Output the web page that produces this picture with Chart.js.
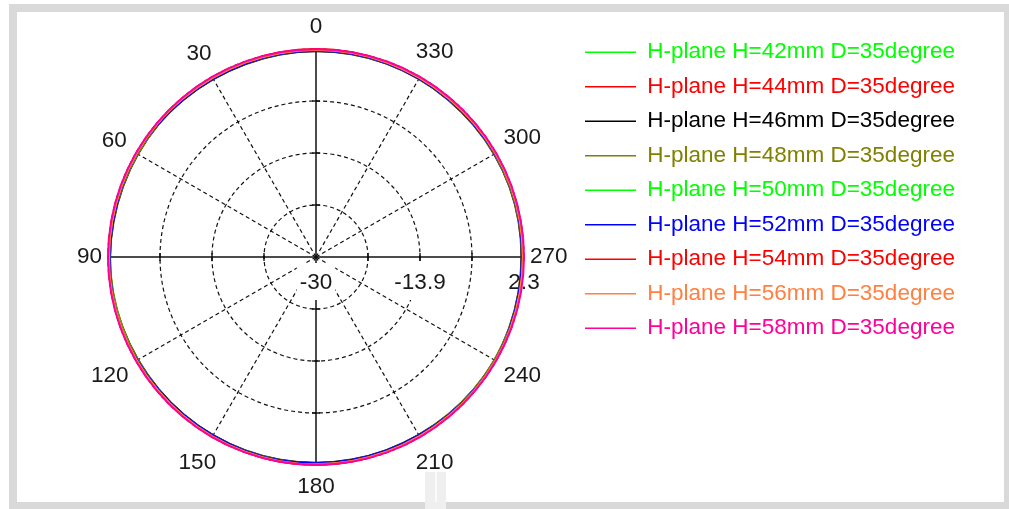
<!DOCTYPE html>
<html>
<head>
<meta charset="utf-8">
<title>H-plane pattern</title>
<script src="https://cdn.jsdelivr.net/npm/chart.js"></script>
<style>
  html, body { margin: 0; padding: 0; background: #fff; }
  #wrap { position: relative; width: 1009px; height: 509px; overflow: hidden; }
  #frame { position: absolute; left: 9px; top: 4px; width: 1000px; height: 505px; background: #d9d9d9; }
  #panel { position: absolute; left: 17px; top: 12px; width: 987px; height: 490px; background: #fff; }
  #smudge { position: absolute; left: 425px; top: 472px; width: 21px; height: 37px; background: #efefef; }
  #smudge i { position: absolute; left: 10px; top: 0; width: 2px; height: 30px; background: #fafafa; }
  #c { position: absolute; left: 0; top: 0; }
</style>
</head>
<body>
<div id="wrap">
  <div id="frame"></div>
  <div id="panel"></div>
  <div id="smudge"><i></i></div>
  <canvas id="c" width="1009" height="509"></canvas>
</div>
<script>
// angles of the measurement, degrees (counter-clockwise from top)
const angles = [0, 10, 20, 30, 40, 50, 60, 70, 80, 90, 100, 110, 120, 130, 140, 150, 160, 170,
                180, 190, 200, 210, 220, 230, 240, 250, 260, 270, 280, 290, 300, 310, 320, 330, 340, 350];
const angleLabels = [0, 30, 60, 90, 120, 150, 180, 210, 240, 270, 300, 330];

// radial axis (dB)
const ringValues = [-30, -21.925, -13.85, -5.775, 2.3];
const ringLabels = ['-30', '', '-13.9', '', '2.3'];

const seriesNames = [
  'H-plane H=42mm D=35degree', 'H-plane H=44mm D=35degree', 'H-plane H=46mm D=35degree',
  'H-plane H=48mm D=35degree', 'H-plane H=50mm D=35degree', 'H-plane H=52mm D=35degree',
  'H-plane H=54mm D=35degree', 'H-plane H=56mm D=35degree', 'H-plane H=58mm D=35degree'
];
const seriesColors = ['#00ff00', '#ff0000', '#000000', '#808000', '#00ff00', '#0000ff', '#ff0000', '#ff8040', '#ff0099'];

const h42 = [2.08,2.05,2.02,2.00,2.03,2.06,2.04,2.01,1.99,2.02,2.05,2.07,2.04,2.01,2.00,2.03,2.06,2.08,2.09,2.07,2.04,2.01,2.00,2.02,2.05,2.03,2.00,1.99,2.02,2.05,2.07,2.04,2.02,2.01,2.04,2.07];
const h44 = [2.30,2.27,2.20,2.14,2.16,2.19,2.15,2.13,2.16,2.20,2.17,2.14,2.12,2.15,2.18,2.16,2.22,2.27,2.30,2.26,2.20,2.15,2.13,2.16,2.19,2.15,2.13,2.17,2.20,2.16,2.14,2.15,2.18,2.16,2.21,2.27];
const h46 = [1.95,1.93,1.90,1.88,1.92,1.96,1.94,1.90,1.92,1.98,2.02,1.96,1.91,1.90,1.93,1.95,1.97,1.98,1.96,1.94,1.91,1.89,1.93,1.98,2.02,1.96,1.92,1.90,1.94,1.97,1.95,1.91,1.90,1.93,1.96,1.97];
const h48 = [2.01,1.98,1.96,1.94,1.97,1.99,1.96,1.94,1.96,1.99,1.98,1.95,1.94,1.96,1.98,2.00,2.01,2.02,2.01,1.99,1.97,1.94,1.95,1.98,1.99,1.97,1.94,1.95,1.98,2.00,1.98,1.95,1.94,1.96,1.98,2.00];
const h50 = [2.12,2.10,2.08,2.06,2.09,2.11,2.08,2.06,2.07,2.10,2.12,2.09,2.07,2.06,2.09,2.11,2.13,2.14,2.13,2.11,2.08,2.06,2.07,2.10,2.12,2.09,2.07,2.06,2.09,2.12,2.10,2.07,2.06,2.08,2.11,2.13];
const h52 = [2.02,2.00,1.97,1.95,1.98,2.04,2.10,2.03,1.97,2.05,2.12,2.14,2.04,1.98,1.97,2.00,2.03,2.05,2.03,2.01,1.98,1.96,2.01,2.08,2.13,2.05,1.98,1.97,2.04,2.11,2.06,1.99,1.96,1.98,2.01,2.03];
const h54 = [2.20,2.18,2.15,2.13,2.16,2.19,2.17,2.14,2.15,2.19,2.21,2.18,2.15,2.14,2.16,2.19,2.21,2.23,2.22,2.20,2.17,2.14,2.15,2.18,2.21,2.18,2.15,2.14,2.17,2.20,2.18,2.15,2.14,2.16,2.19,2.21];
const h56 = [2.16,2.14,2.12,2.10,2.12,2.15,2.13,2.11,2.12,2.15,2.17,2.14,2.12,2.11,2.13,2.16,2.18,2.19,2.18,2.16,2.13,2.11,2.12,2.15,2.17,2.14,2.12,2.11,2.13,2.16,2.15,2.12,2.10,2.12,2.15,2.17];
const h58 = [2.27,2.28,2.29,2.30,2.30,2.30,2.29,2.28,2.29,2.30,2.30,2.29,2.28,2.29,2.30,2.30,2.29,2.28,2.27,2.28,2.29,2.30,2.30,2.29,2.28,2.29,2.30,2.30,2.29,2.30,2.30,2.29,2.28,2.29,2.30,2.29];
const seriesValues = [h42, h44, h46, h48, h50, h52, h54, h56, h58];

const FONT = "'Liberation Sans', Arial, sans-serif";
Chart.defaults.font.family = FONT;

// radar goes clockwise, the plot goes counter-clockwise: slot i holds angle (360 - 10*i) % 360
const slotAngles = angles.map(a => (360 - a) % 360);
const angleIndex = {};
angles.forEach((a, i) => { angleIndex[a] = i; });
const slotOf = a => slotAngles.indexOf(a);

// legend geometry: line starts at x=585
const legendFont = { size: 22.5, family: FONT };
const legendPad = 12;
const lineLen = 51;
const legendLeft = 573;
const meas = document.createElement('canvas').getContext('2d');
meas.font = legendFont.size + 'px ' + FONT;
const textW = Math.max(...seriesNames.map(s => meas.measureText(s).width));
const legendW = legendPad + lineLen + legendFont.size / 2 + textW + 10;
const padRight = 1009 - legendLeft - legendW;

const polarDecor = {
  id: 'polarDecor',
  beforeDatasetsDraw(chart) {
    const r = chart.scales.r;
    const ctx = chart.ctx;
    ctx.save();

    // small ticks across the solid axes
    ctx.strokeStyle = '#000';
    ctx.lineWidth = 1.3;
    [0, 90, 180, 270].forEach(a => {
      const i = slotOf(a);
      ringValues.slice(1, -1).forEach(v => {
        const p = r.getPointPositionForValue(i, v);
        const nx = -Math.sin(p.angle) * 4, ny = Math.cos(p.angle) * 4;
        ctx.beginPath();
        ctx.moveTo(p.x - nx, p.y - ny);
        ctx.lineTo(p.x + nx, p.y + ny);
        ctx.stroke();
      });
    });

    // radial tick labels under the right-hand axis
    ctx.font = '22.5px ' + FONT;
    ctx.textAlign = 'center';
    ctx.textBaseline = 'middle';
    ringValues.forEach((v, k) => {
      if (!ringLabels[k]) return;
      const x = r.xCenter + r.getDistanceFromCenterForValue(v);
      const y = r.yCenter + 26;
      const w = ctx.measureText(ringLabels[k]).width;
      ctx.fillStyle = '#fff';
      ctx.fillRect(x - w / 2 - 3, y - 20, w + 6, 37);
      ctx.fillStyle = '#1a1a1a';
      ctx.fillText(ringLabels[k], x, y);
    });

    // angle labels round the outside, kept clear of the circle by their own size
    angleLabels.forEach(a => {
      const i = slotOf(a);
      const t = r.getIndexAngle(i);
      const w = ctx.measureText(String(a)).width;
      const dist = r.drawingArea + 6 + Math.abs(Math.sin(t)) * w / 2 + Math.abs(Math.cos(t)) * 16;
      const p = r.getPointPosition(i, dist);
      ctx.fillText(String(a), p.x, p.y);
    });
    ctx.restore();
  }
};

new Chart(document.getElementById('c'), {
  type: 'radar',
  data: {
    labels: slotAngles.map(String),
    datasets: seriesNames.map((name, k) => ({
      label: name,
      data: slotAngles.map(a => seriesValues[k][angleIndex[a]]),
      borderColor: seriesColors[k],
      backgroundColor: seriesColors[k],
      borderWidth: 2,
      pointRadius: 0,
      fill: false,
      tension: 0.4,
      order: seriesNames.length - k
    }))
  },
  options: {
    responsive: false,
    devicePixelRatio: 1,
    animation: false,
    layout: { padding: { left: 59, top: 29, bottom: 24, right: padRight } },
    scales: {
      r: {
        min: -30,
        max: 2.3,
        afterBuildTicks: s => { s.ticks = ringValues.map(v => ({ value: v })); },
        afterFit: s => { s.drawingArea -= 20; },
        ticks: { display: false },
        pointLabels: { display: false },
        grid: { circular: true, color: '#111', lineWidth: 1.2 },
        border: { dash: [4, 3] },
        angleLines: {
          color: '#111',
          lineWidth: c => (slotAngles[c.index] % 90 === 0 ? 1.5 : (slotAngles[c.index] % 30 === 0 ? 1.2 : 0)),
          borderDash: c => (slotAngles[c.index] % 90 === 0 ? [] : [4, 3])
        }
      }
    },
    plugins: {
      tooltip: { enabled: false },
      legend: {
        position: 'right',
        align: 'start',
        labels: {
          font: legendFont,
          padding: legendPad,
          usePointStyle: true,
          pointStyle: 'line',
          pointStyleWidth: lineLen,
          generateLabels(chart) {
            const items = Chart.defaults.plugins.legend.labels.generateLabels(chart);
            items.sort((a, b) => a.datasetIndex - b.datasetIndex);
            items.forEach(it => { it.fontColor = it.strokeStyle; it.lineWidth = 1.5; });
            return items;
          }
        }
      }
    }
  },
  plugins: [polarDecor]
});
</script>
</body>
</html>
